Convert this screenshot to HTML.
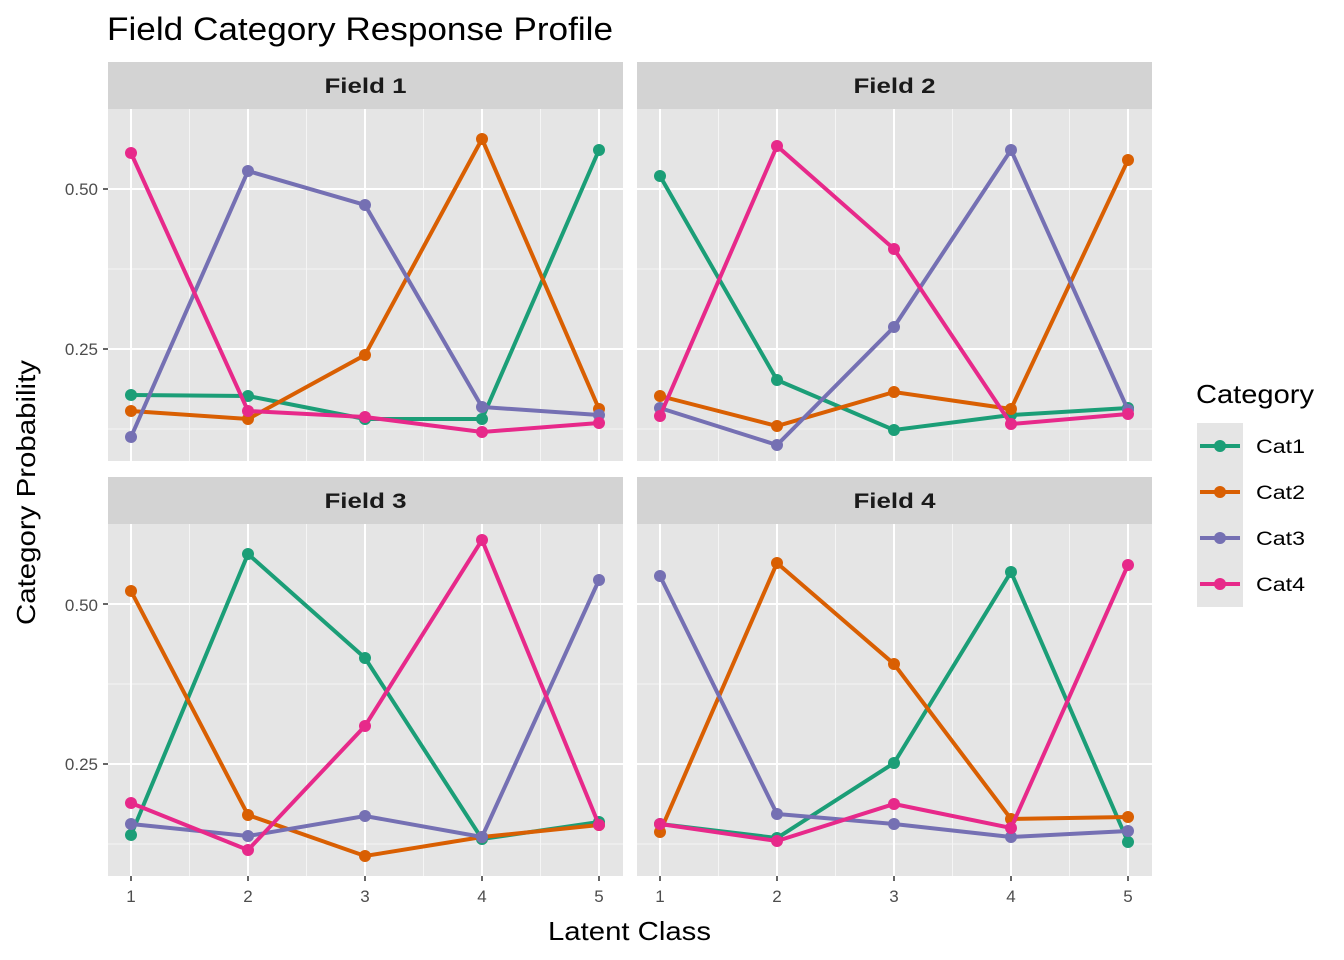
<!DOCTYPE html>
<html><head><meta charset="utf-8"><style>body{margin:0;background:#fff}svg{display:block}text{font-family:"Liberation Sans",Arial,sans-serif}</style></head><body>
<svg width="1344" height="960" xmlns="http://www.w3.org/2000/svg">
<rect width="1344" height="960" fill="#fff"/>
<text x="107" y="40" font-size="32" fill="#000" textLength="506" lengthAdjust="spacingAndGlyphs">Field Category Response Profile</text>
<g id="panels"></g>
<text x="548" y="940" font-size="26" fill="#000" textLength="163" lengthAdjust="spacingAndGlyphs">Latent Class</text>
<text transform="translate(35,625) rotate(-90)" font-size="26" fill="#000" textLength="265" lengthAdjust="spacingAndGlyphs">Category Probability</text>
<g id="ticks"></g>
<text x="1196" y="403" font-size="26" fill="#000" textLength="118" lengthAdjust="spacingAndGlyphs">Category</text>
<g id="legend"></g>
<script>
const ns="http://www.w3.org/2000/svg";
function el(t,a,p){const e=document.createElementNS(ns,t);for(const k in a)e.setAttribute(k,a[k]);p.appendChild(e);return e;}
const T=document.getElementById("ticks");
[[98,195,"0.50"],[98,355,"0.25"],[98,611,"0.50"],[98,770,"0.25"]].forEach(a=>{const t=el("text",{x:a[0],y:a[1],"font-size":"17",fill:"#4d4d4d","text-anchor":"end"},T);t.textContent=a[2];});
[131,248,365,482,599,660,777,894,1011,1128].forEach((x,i)=>{const t=el("text",{x:x,y:902,"font-size":"17",fill:"#4d4d4d","text-anchor":"middle"},T);t.textContent=(i%5)+1;});
const P=document.getElementById("panels");
const cols=["#1B9E77","#D95F02","#7570B3","#E7298A"];
const panels=[
{x:108,y:109,t:"Field 1",d:[[395,396,419,419,150],[411,419,355,139,409],[437,171,205,407,415],[153,411,417,432,423]]},
{x:637,y:109,t:"Field 2",d:[[176,380,430,415,408],[396,426,392,409,160],[408,445,327,150,410],[416,146,249,424,414]]},
{x:108,y:524,t:"Field 3",d:[[835,554,658,839,822],[591,815,856,837,825],[824,836,816,837,580],[803,850,726,540,825]]},
{x:637,y:524,t:"Field 4",d:[[824,838,763,572,842],[832,563,664,819,817],[576,814,824,837,831],[824,841,804,828,565]]}];
const W=515,H=352;
panels.forEach(p=>{
 el("rect",{x:p.x,y:p.y-47,width:W,height:47,fill:"#d3d3d3"},P);
 const t=el("text",{x:p.x+W/2-41,y:p.y-16,"font-size":"21","font-weight":"bold",fill:"#1a1a1a",textLength:"82",lengthAdjust:"spacingAndGlyphs"},P);t.textContent=p.t;
 el("rect",{x:p.x,y:p.y,width:W,height:H,fill:"#e5e5e5"},P);
 const off=p.y-109;
 [269,429].forEach(y=>el("line",{x1:p.x,x2:p.x+W,y1:y+off,y2:y+off,stroke:"#f5f5f5","stroke-width":1},P));
 for(let i=0;i<4;i++){const x=p.x+23+117*i+58.5;el("line",{x1:x,x2:x,y1:p.y,y2:p.y+H,stroke:"#f5f5f5","stroke-width":1},P);}
 [189,349].forEach(y=>el("line",{x1:p.x,x2:p.x+W,y1:y+off,y2:y+off,stroke:"#fff","stroke-width":2},P));
 for(let i=0;i<5;i++){const x=p.x+23+117*i;el("line",{x1:x,x2:x,y1:p.y,y2:p.y+H,stroke:"#fff","stroke-width":2},P);
  if(p.y>400)el("line",{x1:x,x2:x,y1:p.y+H,y2:p.y+H+5,stroke:"#333","stroke-width":1.5},P);}
 if(p.x<200)[189,349].forEach(y=>el("line",{x1:p.x-5,x2:p.x,y1:y+off,y2:y+off,stroke:"#333","stroke-width":1.5},P));
 p.d.forEach((s,c)=>{
  const pts=s.map((y,i)=>(p.x+23+117*i)+","+y).join(" ");
  el("polyline",{points:pts,fill:"none",stroke:cols[c],"stroke-width":4},P);
  s.forEach((y,i)=>el("circle",{cx:p.x+23+117*i,cy:y,r:6,fill:cols[c]},P));
 });
});
const L=document.getElementById("legend");
["Cat1","Cat2","Cat3","Cat4"].forEach((n,i)=>{const y=446+46*i;
 el("rect",{x:1197,y:y-23,width:46,height:46,fill:"#e5e5e5"},L);
 el("line",{x1:1200,x2:1240,y1:y,y2:y,stroke:cols[i],"stroke-width":4},L);
 el("circle",{cx:1220,cy:y,r:6,fill:cols[i]},L);
 const t=el("text",{x:1256,y:y+7,"font-size":"19",fill:"#000",textLength:"49",lengthAdjust:"spacingAndGlyphs"},L);t.textContent=n;});
</script>
</svg>
</body></html>
